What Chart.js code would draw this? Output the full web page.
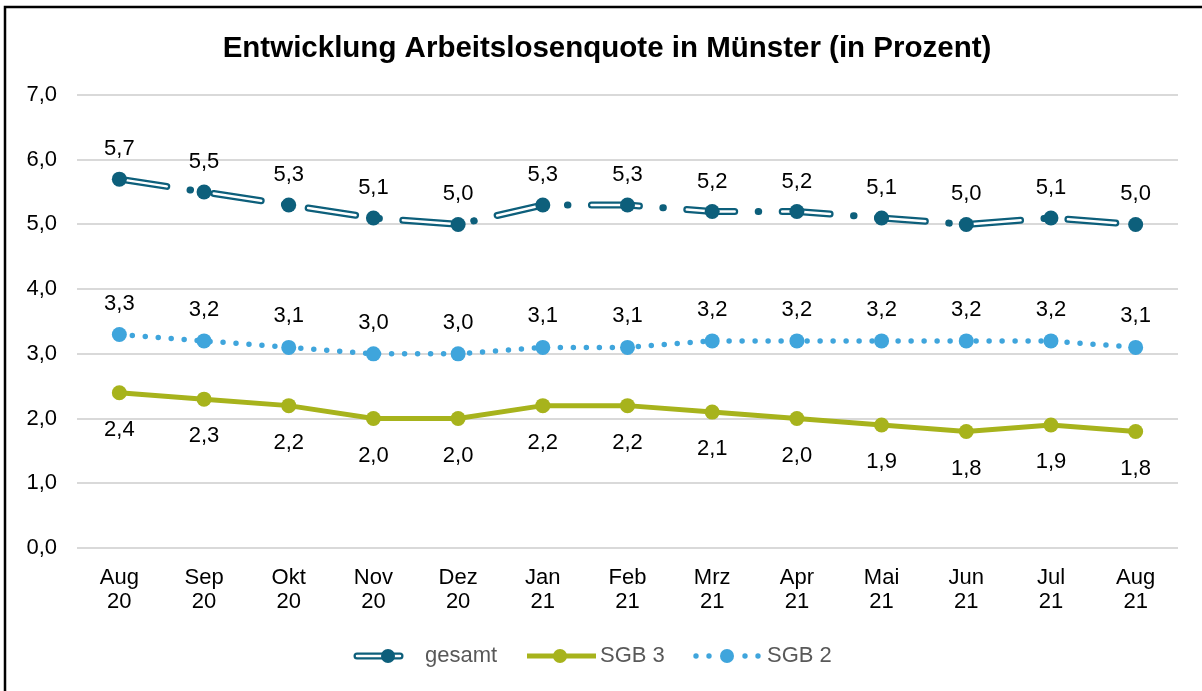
<!DOCTYPE html>
<html><head><meta charset="utf-8">
<script src="https://cdn.jsdelivr.net/npm/chart.js@4/dist/chart.umd.min.js"></script>
<style>html,body{margin:0;padding:0;background:#fff;}#wrap{width:1202px;height:691px;position:relative;}</style>
</head><body><div id="wrap"><canvas id="c" width="1202" height="691"></canvas></div>
<script>
const categories = [["Aug","20"],["Sep","20"],["Okt","20"],["Nov","20"],["Dez","20"],["Jan","21"],["Feb","21"],["Mrz","21"],["Apr","21"],["Mai","21"],["Jun","21"],["Jul","21"],["Aug","21"]];
const gesamt = [5.7,5.5,5.3,5.1,5.0,5.3,5.3,5.2,5.2,5.1,5.0,5.1,5.0];
const sgb3 = [2.4,2.3,2.2,2.0,2.0,2.2,2.2,2.1,2.0,1.9,1.8,1.9,1.8];
const sgb2 = [3.3,3.2,3.1,3.0,3.0,3.1,3.1,3.2,3.2,3.2,3.2,3.2,3.1];
const yTicks = [0,1,2,3,4,5,6,7];
const seriesNames = ["gesamt","SGB 3","SGB 2"];
const title = "Entwicklung Arbeitslosenquote in Münster (in Prozent)";

const C_GES = "#0d5f7b", C_S3 = "#a7b31c", C_S2 = "#3fa5dc";
const FONT = "'Liberation Sans', Arial, sans-serif";
const fmt = v => v.toFixed(1).replace('.', ',');

const framePlugin = {
  id: 'frame',
  beforeDraw(chart) {
    const ctx = chart.ctx;
    ctx.save();
    ctx.fillStyle = '#fff';
    ctx.fillRect(0, 0, chart.width, chart.height);
    ctx.strokeStyle = '#000';
    ctx.lineWidth = 2.5;
    ctx.beginPath();
    ctx.moveTo(5, chart.height); ctx.lineTo(5, 7); ctx.lineTo(chart.width, 7);
    ctx.stroke();
    ctx.fillStyle = '#000';
    ctx.font = "bold 29.5px " + FONT;
    ctx.textAlign = 'center';
    ctx.textBaseline = 'alphabetic';
    ctx.fillText(title, 607, 57);
    ctx.restore();
  }
};

const labelPlugin = {
  id: 'vlabels',
  afterDatasetsDraw(chart) {
    const ctx = chart.ctx;
    ctx.save();
    ctx.font = "22px " + FONT;
    ctx.fillStyle = '#000';
    ctx.textAlign = 'center';
    ctx.textBaseline = 'middle';
    chart.data.datasets.forEach((ds, i) => {
      if (!ds.valueLabel) return;
      const meta = chart.getDatasetMeta(i);
      meta.data.forEach((pt, j) => {
        ctx.fillText(fmt(ds.data[j]), pt.x, pt.y + ds.valueLabel);
      });
    });
    ctx.restore();
  }
};

const legendPlugin = {
  id: 'customLegend',
  afterDraw(chart) {
    const ctx = chart.ctx;
    const y = 656;
    ctx.save();
    ctx.lineCap = 'round';
    ctx.strokeStyle = C_GES; ctx.lineWidth = 7;
    ctx.beginPath(); ctx.moveTo(357, y); ctx.lineTo(400, y); ctx.stroke();
    ctx.strokeStyle = '#fff'; ctx.lineWidth = 2.5;
    ctx.beginPath(); ctx.moveTo(357, y); ctx.lineTo(400, y); ctx.stroke();
    ctx.fillStyle = C_GES; ctx.beginPath(); ctx.arc(388, y, 7, 0, Math.PI*2); ctx.fill();
    ctx.lineCap = 'butt';
    ctx.strokeStyle = C_S3; ctx.lineWidth = 5;
    ctx.beginPath(); ctx.moveTo(527, y); ctx.lineTo(596, y); ctx.stroke();
    ctx.fillStyle = C_S3; ctx.beginPath(); ctx.arc(560, y, 7, 0, Math.PI*2); ctx.fill();
    ctx.fillStyle = C_S2;
    [696, 709, 745, 758].forEach(x => { ctx.beginPath(); ctx.arc(x, y, 2.7, 0, Math.PI*2); ctx.fill(); });
    ctx.beginPath(); ctx.arc(727, y, 7, 0, Math.PI*2); ctx.fill();
    ctx.fillStyle = '#595959';
    ctx.font = "22px " + FONT;
    ctx.textAlign = 'left'; ctx.textBaseline = 'middle';
    ctx.fillText(seriesNames[0], 425, y);
    ctx.fillText(seriesNames[1], 600, y);
    ctx.fillText(seriesNames[2], 767, y);
    ctx.restore();
  }
};

new Chart(document.getElementById('c'), {
  type: 'line',
  data: {
    labels: categories,
    datasets: [
      { label: seriesNames[0], data: gesamt, borderColor: C_GES, borderWidth: 7,
        borderDash: [48, 23.5, 0.5, 23.5], borderCapStyle: 'round', pointRadius: 0, order: 5, tension: 0 },
      { label: 'gesamt-inner', data: gesamt, borderColor: '#ffffff', borderWidth: 2.5,
        borderDash: [48, 47.5], borderCapStyle: 'round', pointRadius: 0, order: 4, tension: 0 },
      { label: 'gesamt-points', data: gesamt, showLine: false, pointRadius: 7.5, pointBackgroundColor: C_GES,
        pointBorderWidth: 0, order: 3, valueLabel: -30 },
      { label: seriesNames[1], data: sgb3, borderColor: C_S3, borderWidth: 5, pointRadius: 7.5,
        pointBackgroundColor: C_S3, pointBorderWidth: 0, order: 2, tension: 0, valueLabel: 37 },
      { label: seriesNames[2], data: sgb2, borderColor: C_S2, borderWidth: 5.5, borderDash: [0, 13],
        borderCapStyle: 'round', pointRadius: 7.5, pointBackgroundColor: C_S2, pointBorderWidth: 0,
        order: 1, tension: 0, valueLabel: -31 }
    ]
  },
  options: {
    responsive: false, animation: false,
    devicePixelRatio: 1,
    layout: { padding: { top: 95, left: 5, right: 24, bottom: 43 } },
    plugins: { legend: { display: false }, tooltip: { enabled: false }, title: { display: false } },
    scales: {
      x: {
        offset: true,
        grid: { display: false, drawTicks: false },
        border: { display: false },
        ticks: { color: '#000', font: { family: FONT, size: 22, lineHeight: 1.1 }, padding: 18, maxRotation: 0, autoSkip: false },
        afterFit(s) { s.height = 100; }
      },
      y: {
        min: 0, max: 7,
        afterBuildTicks(s) { s.ticks = yTicks.map(v => ({ value: v })); },
        grid: { color: '#d9d9d9', lineWidth: 2, drawTicks: false },
        border: { display: false },
        ticks: { color: '#000', font: { family: FONT, size: 22 }, padding: 20, callback: v => fmt(v) },
        afterFit(s) { s.width = 72; }
      }
    }
  },
  plugins: [framePlugin, labelPlugin, legendPlugin]
});
</script>
</body></html>
